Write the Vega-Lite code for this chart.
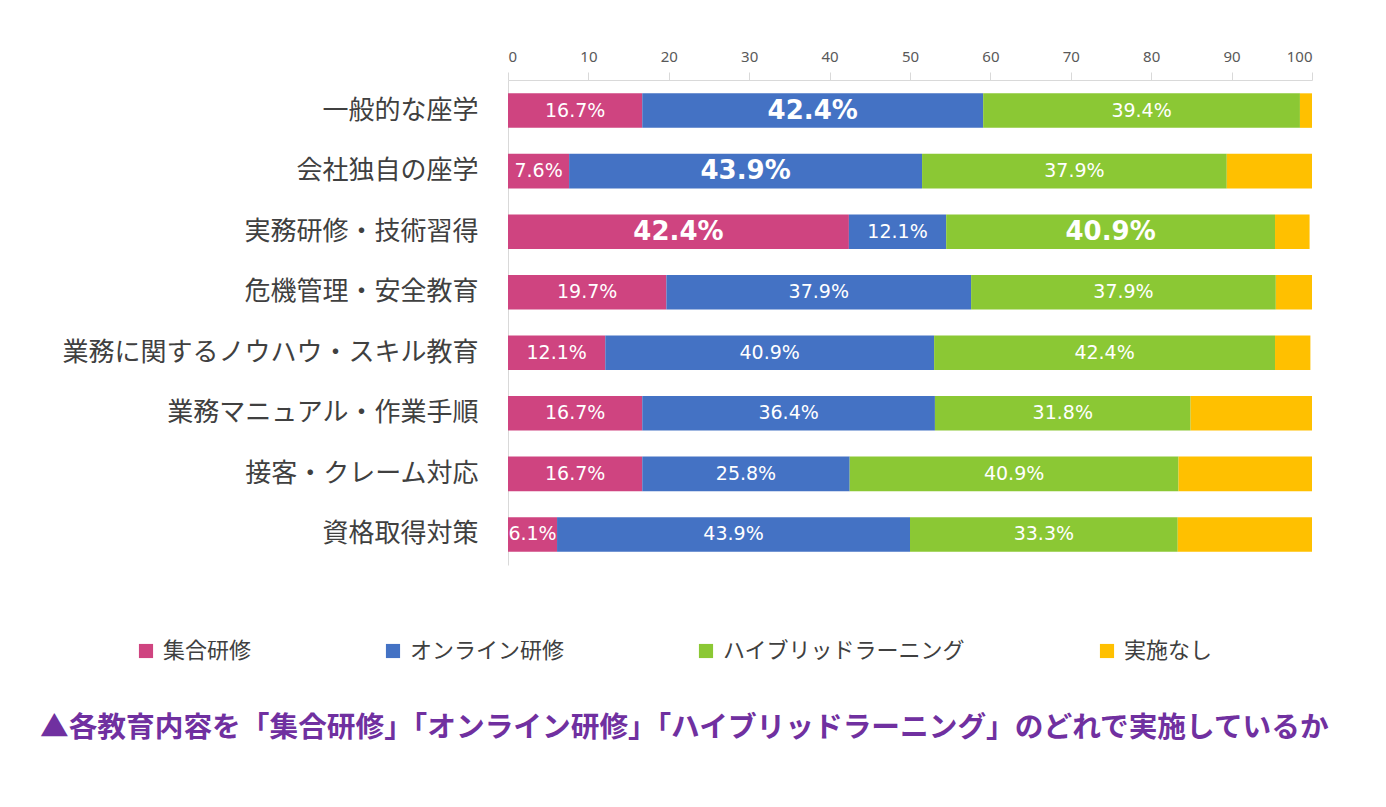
{
  "$schema": "https://vega.github.io/schema/vega-lite/v6.json",
  "width": 804,
  "height": 485,
  "autosize": "none",
  "padding": {"left": 508, "top": 80, "right": 74, "bottom": 242},
  "background": "white",
  "config": {
    "font": "Noto Sans CJK JP",
    "view": {"stroke": null}
  },
  "title": {
    "text": "▲各教育内容を「集合研修」「オンライン研修」「ハイブリッドラーニング」のどれで実施しているか",
    "orient": "bottom",
    "anchor": "start",
    "frame": "group",
    "dx": -468,
    "offset": 52,
    "fontSize": 28.7,
    "fontWeight": "bold",
    "color": "#7030A0",
    "font": "Noto Sans CJK JP"
  },
  "data": {
    "values": [
      {"item": "一般的な座学", "type": "集合研修", "value": 16.7},
      {"item": "一般的な座学", "type": "オンライン研修", "value": 42.4},
      {"item": "一般的な座学", "type": "ハイブリッドラーニング", "value": 39.4},
      {"item": "一般的な座学", "type": "実施なし", "value": 1.5},
      {"item": "会社独自の座学", "type": "集合研修", "value": 7.6},
      {"item": "会社独自の座学", "type": "オンライン研修", "value": 43.9},
      {"item": "会社独自の座学", "type": "ハイブリッドラーニング", "value": 37.9},
      {"item": "会社独自の座学", "type": "実施なし", "value": 10.6},
      {"item": "実務研修・技術習得", "type": "集合研修", "value": 42.4},
      {"item": "実務研修・技術習得", "type": "オンライン研修", "value": 12.1},
      {"item": "実務研修・技術習得", "type": "ハイブリッドラーニング", "value": 40.9},
      {"item": "実務研修・技術習得", "type": "実施なし", "value": 4.3},
      {"item": "危機管理・安全教育", "type": "集合研修", "value": 19.7},
      {"item": "危機管理・安全教育", "type": "オンライン研修", "value": 37.9},
      {"item": "危機管理・安全教育", "type": "ハイブリッドラーニング", "value": 37.9},
      {"item": "危機管理・安全教育", "type": "実施なし", "value": 4.5},
      {"item": "業務に関するノウハウ・スキル教育", "type": "集合研修", "value": 12.1},
      {"item": "業務に関するノウハウ・スキル教育", "type": "オンライン研修", "value": 40.9},
      {"item": "業務に関するノウハウ・スキル教育", "type": "ハイブリッドラーニング", "value": 42.4},
      {"item": "業務に関するノウハウ・スキル教育", "type": "実施なし", "value": 4.4},
      {"item": "業務マニュアル・作業手順", "type": "集合研修", "value": 16.7},
      {"item": "業務マニュアル・作業手順", "type": "オンライン研修", "value": 36.4},
      {"item": "業務マニュアル・作業手順", "type": "ハイブリッドラーニング", "value": 31.8},
      {"item": "業務マニュアル・作業手順", "type": "実施なし", "value": 15.1},
      {"item": "接客・クレーム対応", "type": "集合研修", "value": 16.7},
      {"item": "接客・クレーム対応", "type": "オンライン研修", "value": 25.8},
      {"item": "接客・クレーム対応", "type": "ハイブリッドラーニング", "value": 40.9},
      {"item": "接客・クレーム対応", "type": "実施なし", "value": 16.6},
      {"item": "資格取得対策", "type": "集合研修", "value": 6.1},
      {"item": "資格取得対策", "type": "オンライン研修", "value": 43.9},
      {"item": "資格取得対策", "type": "ハイブリッドラーニング", "value": 33.3},
      {"item": "資格取得対策", "type": "実施なし", "value": 16.7}
    ]
  },
  "transform": [
    {"calculate": "indexof(['集合研修','オンライン研修','ハイブリッドラーニング','実施なし'], datum.type)", "as": "ord"},
    {"stack": "value", "groupby": ["item"], "sort": [{"field": "ord", "order": "ascending"}], "as": ["v0", "v1"]},
    {"calculate": "(datum.v0 + datum.v1) / 2", "as": "mid"},
    {"calculate": "format(datum.value, '.1f') + '%'", "as": "label"},
    {"calculate": "(datum.item == '一般的な座学' && datum.type == 'オンライン研修') || (datum.item == '会社独自の座学' && datum.type == 'オンライン研修') || (datum.item == '実務研修・技術習得' && (datum.type == '集合研修' || datum.type == 'ハイブリッドラーニング'))", "as": "emph"}
  ],
  "encoding": {
    "y": {
      "field": "item",
      "type": "nominal",
      "sort": null,
      "scale": {"paddingInner": 0.43, "paddingOuter": 0.22},
      "axis": {
        "title": null,
        "ticks": false,
        "domain": true,
        "domainColor": "#D9D9D9",
        "labelFontSize": 26,
        "labelColor": "#404040",
        "labelPadding": 30,
        "labelLimit": 600,
        "labelFont": "Noto Sans CJK JP"
      }
    }
  },
  "layer": [
    {
      "mark": {"type": "bar"},
      "encoding": {
        "x": {
          "field": "v0",
          "type": "quantitative",
          "scale": {"domain": [0, 100], "nice": false},
          "axis": {
            "orient": "top",
            "title": null,
            "grid": false,
            "values": [0, 10, 20, 30, 40, 50, 60, 70, 80, 90, 100],
            "domainColor": "#D9D9D9",
            "tickColor": "#D9D9D9",
            "tickSize": 8,
            "labelFontSize": 15,
            "labelColor": "#595959",
            "labelPadding": 8,
            "labelFont": "Noto Sans"
          }
        },
        "x2": {"field": "v1"},
        "color": {
          "field": "type",
          "type": "nominal",
          "sort": ["集合研修", "オンライン研修", "ハイブリッドラーニング", "実施なし"],
          "scale": {
            "domain": ["集合研修", "オンライン研修", "ハイブリッドラーニング", "実施なし"],
            "range": ["#CF4480", "#4472C4", "#8BC834", "#FFC000"]
          },
          "legend": {
            "orient": "none",
            "direction": "horizontal",
            "legendX": -373,
            "legendY": 560,
            "title": null,
            "symbolType": "square",
            "symbolSize": 200,
            "symbolStrokeWidth": 0,
            "labelFontSize": 22,
            "labelColor": "#404040",
            "labelFont": "Noto Sans CJK JP",
            "labelOffset": 6,
            "labelLimit": 400,
            "columnPadding": 130
          }
        }
      }
    },
    {
      "transform": [{"filter": "datum.type != '実施なし' && !datum.emph"}],
      "mark": {"type": "text", "color": "white", "fontSize": 19, "font": "DejaVu Sans", "align": "center", "baseline": "middle"},
      "encoding": {
        "x": {"field": "mid", "type": "quantitative"},
        "text": {"field": "label"}
      }
    },
    {
      "transform": [{"filter": "datum.emph"}],
      "mark": {"type": "text", "color": "white", "fontSize": 26, "fontWeight": "bold", "font": "DejaVu Sans", "align": "center", "baseline": "middle"},
      "encoding": {
        "x": {"field": "mid", "type": "quantitative"},
        "text": {"field": "label"}
      }
    }
  ]
}
